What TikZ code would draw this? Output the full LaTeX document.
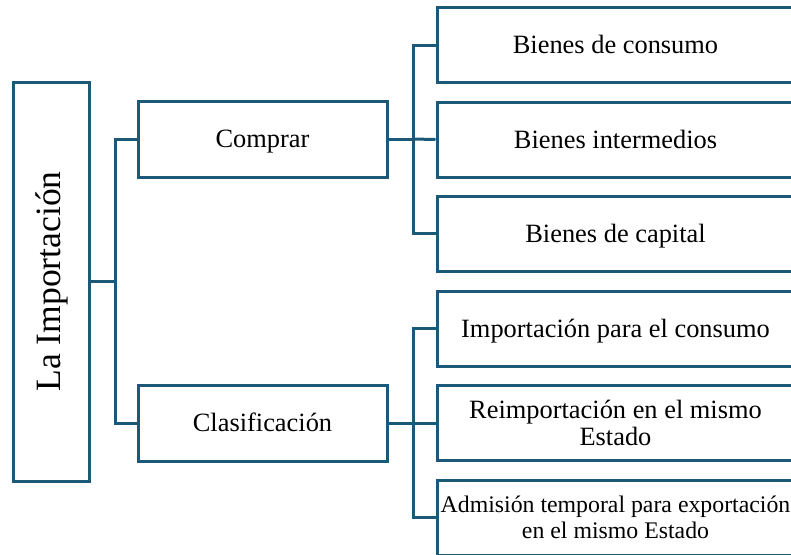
\documentclass[tikz,border=0pt]{standalone}
\usepackage{fontspec}
\setmainfont{Liberation Serif}
\usetikzlibrary{positioning}
\definecolor{ImpBlue}{RGB}{28,88,120}

\tikzset{
 impbox/.style={draw=ImpBlue, line width=1.5pt, fill=white, inner sep=0pt, align=center,
   font=\fontsize{13.2}{13.5}\selectfont},
 oneline/.style={text height=11.6pt, text depth=3pt},
 impline/.style={draw=ImpBlue, line width=1.5pt}
}

\begin{document}
\begin{tikzpicture}[x=0.5pt, y=-0.5pt]
\useasboundingbox (0,0) rectangle (791,554); % page = reference size
\clip (0,0) rectangle (791,554);

% root box, text turned upwards
\node[impbox, rotate=90, minimum width=199.5pt, minimum height=38pt,
      font=\fontsize{17.8}{20}\selectfont] (imp) at (51.5,281.5) {La Importación};

% second level
\node[impbox, oneline, minimum width=124.5pt, minimum height=38pt] (comprar) at (262.5,139) {Comprar};
\node[impbox, oneline, minimum width=124.5pt, minimum height=38pt] (clasif) at (262.5,423) {Clasificación};

% third level (right side runs off the page)
\foreach \n/\y/\t in {bcon/45/Bienes de consumo,
                      bint/139.5/Bienes intermedios,
                      bcap/233.5/Bienes de capital,
                      icon/328.5/Importación para el consumo}
 \node[impbox, oneline, minimum width=178.5pt, minimum height=37.5pt] (\n) at (615.5,\y) {\t};
\node[impbox, minimum width=178.5pt, minimum height=37.5pt] (reim) at (615.5,423)
  {Reimportación en el mismo\\Estado};
\node[impbox, minimum width=178.5pt, minimum height=37.5pt,
      font=\fontsize{11.9}{13}\selectfont] (admi) at (615.5,517.5)
  {Admisión temporal para exportación\\en el mismo Estado};

% connectors
\draw[impline] (imp.south) -- ++(24,0) coordinate (jimp);
\draw[impline] (comprar.west) -| (jimp) |- (clasif.west);

\draw[impline] (comprar.east) -- ++(25,0) coordinate (jcom);
\draw[impline] (bcon.west) -| (jcom) |- (bcap.west);
\draw[impline] (jcom) -- (bint.west);

\draw[impline] (clasif.east) -- ++(25,0) coordinate (jcla);
\draw[impline] (icon.west) -| (jcla) |- (admi.west);
\draw[impline] (jcla) -- (reim.west);

\end{tikzpicture}
\end{document}
